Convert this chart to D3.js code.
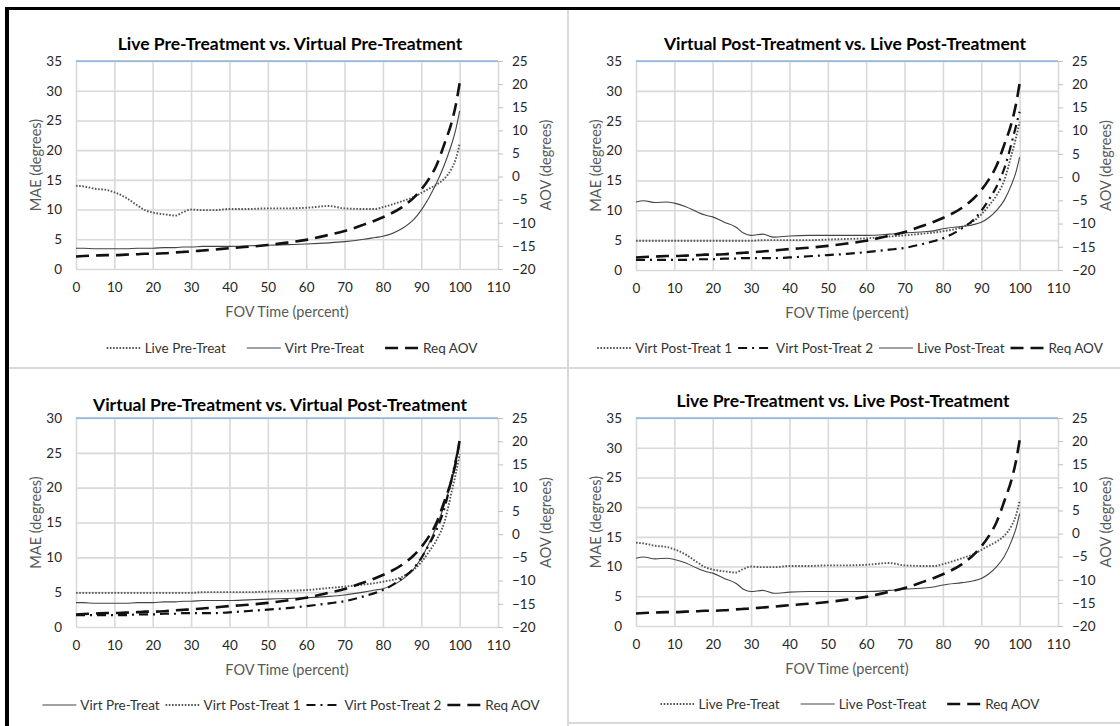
<!DOCTYPE html>
<html>
<head>
<meta charset="utf-8" />
<title>MAE vs FOV time</title>
<script src="https://d3js.org/d3.v7.min.js"></script>
<style>
  body { margin: 0; background: #fff; }
  text { font-family: Lato, "Open Sans", sans-serif; }
  .tick text { font-size: 13.5px; fill: #262626; }
  .grid line { stroke: #d9d9d9; stroke-width: 1.6; }
  .title { font-size: 17.5px; font-weight: bold; fill: #000; }
  .axTitle { font-size: 14.5px; fill: #595959; }
  .leg { font-size: 13.5px; fill: #333; }
</style>
</head>
<body>
<svg id="chart" width="1120" height="726"></svg>
<script>
// FOV time (percent)
var fov      = [0, 2, 5, 8, 10, 13, 16, 18, 20, 23, 26, 28, 30, 33, 36, 40, 45, 50, 55, 60, 66, 70, 75, 78, 80, 85, 88, 90, 92, 94, 96, 98, 99, 100];
// MAE (degrees)
var livePre  = [14.0, 13.9, 13.5, 13.3, 12.9, 12.0, 10.7, 9.9, 9.5, 9.2, 9.0, 9.6, 10.0, 9.9, 9.9, 10.1, 10.1, 10.2, 10.2, 10.3, 10.6, 10.2, 10.1, 10.1, 10.4, 11.4, 12.1, 12.8, 13.5, 14.2, 15.2, 17.0, 18.5, 21.1];
var virtPre  = [3.5, 3.5, 3.4, 3.4, 3.4, 3.4, 3.5, 3.5, 3.5, 3.6, 3.6, 3.7, 3.7, 3.8, 3.8, 3.8, 3.9, 4.0, 4.1, 4.2, 4.4, 4.6, 5.0, 5.3, 5.5, 6.8, 8.3, 9.9, 12.0, 14.5, 17.5, 21.2, 23.5, 26.6];
var virtPost1 = [4.9, 4.9, 4.9, 4.9, 4.9, 4.9, 4.9, 4.9, 4.9, 4.9, 4.9, 4.9, 4.9, 5.0, 5.0, 5.0, 5.0, 5.1, 5.2, 5.3, 5.6, 5.8, 6.1, 6.3, 6.5, 7.2, 8.2, 9.3, 10.8, 12.5, 15.0, 19.6, 22.0, 24.8];
var virtPost2 = [1.7, 1.7, 1.7, 1.7, 1.7, 1.7, 1.8, 1.8, 1.8, 1.9, 1.9, 2.0, 2.0, 2.0, 2.0, 2.1, 2.3, 2.5, 2.7, 3.0, 3.4, 3.7, 4.4, 4.9, 5.3, 7.0, 8.4, 9.9, 11.8, 14.0, 17.0, 21.5, 24.0, 26.5];
var livePost = [11.4, 11.6, 11.3, 11.4, 11.2, 10.6, 9.7, 9.2, 8.9, 8.0, 7.2, 6.2, 5.8, 6.0, 5.5, 5.7, 5.8, 5.8, 5.8, 5.8, 6.0, 6.2, 6.4, 6.6, 6.9, 7.3, 7.6, 8.0, 8.8, 10.0, 11.7, 14.5, 16.3, 18.9];
// Required AOV (degrees, right axis)
var reqAov   = [-17.3, -17.2, -17.1, -17.0, -17.0, -16.9, -16.8, -16.7, -16.7, -16.6, -16.4, -16.3, -16.2, -16.0, -15.8, -15.5, -15.2, -14.8, -14.3, -13.7, -12.6, -11.8, -10.4, -9.5, -8.8, -6.6, -4.6, -2.8, -0.5, 2.5, 7.0, 12.0, 15.5, 20.2];

var xTicks = d3.range(0, 111, 10);
var rightTicks = d3.range(-20, 26, 5);

// line looks
var styles = {
  dotted:  { stroke: "#555", width: 1.9, dash: "1.6,1.6" },
  solid:   { stroke: "#444", width: 1.1, dash: null },
  dashdot: { stroke: "#111", width: 2.2, dash: "9,5,2,5" },
  dashed:  { stroke: "#111", width: 2.6, dash: "13,7" }
};

var panels = [
  { title: "Live Pre-Treatment vs. Virtual Pre-Treatment", left: 76, top: 61, bottom: 269, yMax: 35,
    titleX: 290, titleY: 43, legY: 348, legCx: 292, legGap: 21,
    series: [["Live Pre-Treat", livePre, "dotted", false], ["Virt Pre-Treat", virtPre, "solid", false], ["Req AOV", reqAov, "dashed", true]] },
  { title: "Virtual Post-Treatment vs. Live Post-Treatment", left: 636, top: 61, bottom: 270, yMax: 35,
    titleX: 845, titleY: 43, legY: 348, legCx: 850, legGap: 6,
    series: [["Virt Post-Treat 1", virtPost1, "dotted", false], ["Virt Post-Treat 2", virtPost2, "dashdot", false], ["Live Post-Treat", livePost, "solid", false], ["Req AOV", reqAov, "dashed", true]] },
  { title: "Virtual Pre-Treatment vs. Virtual Post-Treatment", left: 76, top: 418, bottom: 627, yMax: 30,
    titleX: 280, titleY: 404, legY: 705, legCx: 291, legGap: 6,
    series: [["Virt Pre-Treat", virtPre, "solid", false], ["Virt Post-Treat 1", virtPost1, "dotted", false], ["Virt Post-Treat 2", virtPost2, "dashdot", false], ["Req AOV", reqAov, "dashed", true]] },
  { title: "Live Pre-Treatment vs. Live Post-Treatment", left: 636, top: 418, bottom: 626, yMax: 35,
    titleX: 843, titleY: 400, legY: 704, legCx: 850, legGap: 21,
    series: [["Live Pre-Treat", livePre, "dotted", false], ["Live Post-Treat", livePost, "solid", false], ["Req AOV", reqAov, "dashed", true]] }
];

var svg = d3.select("#chart");

// outer frame and dividers
svg.append("rect").attr("width", 1120).attr("height", 726).attr("fill", "#fff");
svg.append("line").attr("x1", 9).attr("x2", 1120).attr("y1", 368).attr("y2", 368).attr("stroke", "#d9d9d9").attr("stroke-width", 2);
svg.append("line").attr("x1", 568).attr("x2", 568).attr("y1", 10).attr("y2", 726).attr("stroke", "#d9d9d9").attr("stroke-width", 2);
svg.append("line").attr("x1", 568).attr("x2", 1120).attr("y1", 723).attr("y2", 723).attr("stroke", "#d9d9d9").attr("stroke-width", 2);
svg.append("rect").attr("x", 5).attr("y", 7).attr("width", 1115).attr("height", 3).attr("fill", "#000");
svg.append("rect").attr("x", 5).attr("y", 7).attr("width", 4).attr("height", 719).attr("fill", "#000");

function applyStyle(sel, st) {
  sel.attr("fill", "none")
    .attr("stroke", st.stroke)
    .attr("stroke-width", st.width)
    .attr("stroke-dasharray", st.dash);
}

function drawPanel(p) {
  var right = p.left + 422;
  var g = svg.append("g");
  var x = d3.scaleLinear().domain([0, 110]).range([p.left, right]);
  var yL = d3.scaleLinear().domain([0, p.yMax]).range([p.bottom, p.top]);
  var yR = d3.scaleLinear().domain([-20, 25]).range([p.bottom, p.top]);

  // vertical gridlines
  g.append("g").attr("class", "grid")
    .attr("transform", "translate(0," + p.bottom + ")")
    .call(d3.axisBottom(x).tickValues(xTicks).tickSize(-(p.bottom - p.top)).tickFormat(""))
    .call(function(a) { a.select(".domain").remove(); });
  // horizontal gridlines
  g.append("g").attr("class", "grid")
    .attr("transform", "translate(" + p.left + ",0)")
    .call(d3.axisLeft(yL).tickValues(d3.range(0, p.yMax + 1, 5)).tickSize(-(right - p.left)).tickFormat(""))
    .call(function(a) { a.select(".domain").remove(); });

  // top line
  g.append("line").attr("x1", p.left).attr("x2", right).attr("y1", p.top).attr("y2", p.top)
    .attr("stroke", "#5b9bd5").attr("stroke-width", 1.2);

  // axes
  g.append("g")
    .attr("transform", "translate(0," + p.bottom + ")")
    .call(d3.axisBottom(x).tickValues(xTicks).tickSize(0).tickPadding(13))
    .call(function(a) { a.select(".domain").remove(); });
  g.append("g")
    .attr("transform", "translate(" + p.left + ",0)")
    .call(d3.axisLeft(yL).tickValues(d3.range(0, p.yMax + 1, 5)).tickSize(0).tickPadding(14))
    .call(function(a) { a.select(".domain").remove(); });
  g.append("g")
    .attr("transform", "translate(" + right + ",0)")
    .call(d3.axisRight(yR).tickValues(rightTicks).tickSize(5).tickPadding(9))
    .call(function(a) {
      a.select(".domain").remove();
      a.selectAll(".tick line").attr("stroke", "#bfbfbf");
    });

  // titles
  g.append("text").attr("class", "title").attr("x", p.titleX).attr("y", p.titleY)
    .attr("text-anchor", "middle").attr("dominant-baseline", "central").text(p.title);
  g.append("text").attr("class", "axTitle")
    .attr("transform", "translate(" + (p.left - 41) + "," + ((p.top + p.bottom) / 2) + ") rotate(-90)")
    .attr("text-anchor", "middle").attr("dominant-baseline", "central").text("MAE (degrees)");
  g.append("text").attr("class", "axTitle")
    .attr("transform", "translate(" + (right + 47) + "," + ((p.top + p.bottom) / 2) + ") rotate(-90)")
    .attr("text-anchor", "middle").attr("dominant-baseline", "central").text("AOV (degrees)");
  g.append("text").attr("class", "axTitle").attr("x", (p.left + right) / 2).attr("y", p.bottom + 42)
    .attr("text-anchor", "middle").attr("dominant-baseline", "central").attr("fill", "#333")
    .text("FOV Time (percent)");

  // series
  p.series.forEach(function(s) {
    var yScale = s[3] ? yR : yL;
    var pts = fov.map(function(f, i) { return { f: f, v: s[1][i] }; });
    var line = d3.line()
      .x(function(d) { return x(d.f); })
      .y(function(d) { return yScale(d.v); })
      .curve(d3.curveMonotoneX);
    g.append("path").datum(pts).attr("d", line).call(applyStyle, styles[s[2]]);
  });

  // legend
  var leg = g.append("g");
  var sample = 34, pad = 4, cursor = 0;
  p.series.forEach(function(s, i) {
    var item = leg.append("g").attr("transform", "translate(" + cursor + ",0)");
    item.append("line").attr("x1", 0).attr("x2", sample).attr("y1", 0).attr("y2", 0)
      .call(applyStyle, styles[s[2]]);
    var t = item.append("text").attr("class", "leg").attr("x", sample + pad).attr("y", 0)
      .attr("dominant-baseline", "central").text(s[0]);
    cursor += sample + pad + t.node().getComputedTextLength() + p.legGap;
  });
  var total = cursor - p.legGap;
  leg.attr("transform", "translate(" + (p.legCx - total / 2) + "," + p.legY + ")");
}

panels.forEach(drawPanel);
</script>
</body>
</html>
